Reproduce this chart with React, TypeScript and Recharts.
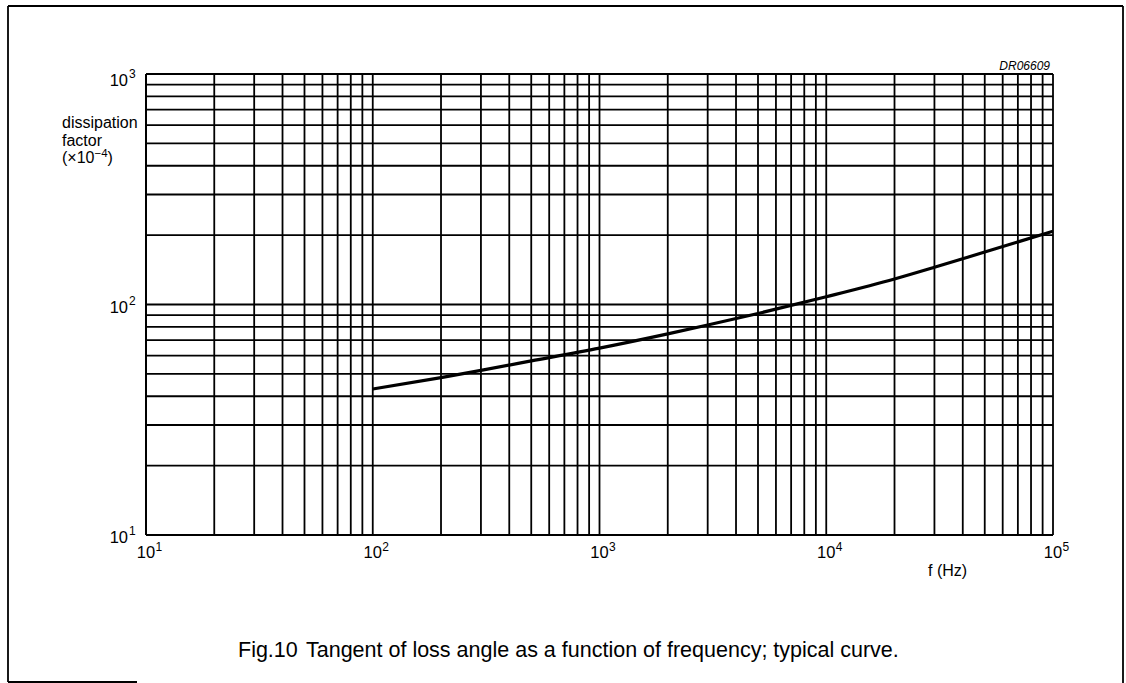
import React from 'react'
import { LineChart, Line, XAxis, YAxis, CartesianGrid } from 'recharts'

// typical tan δ curve
const frequencies = [100, 200, 300, 500, 1000, 2000, 3000, 5000, 10000, 20000, 30000, 50000, 100000]
const dissipation = [43, 48.2, 51.8, 56.9, 64.7, 74.6, 81.5, 91.4, 108, 129, 145, 169, 208]

// log grid: decades and the 1..9 steps inside each decade
const xDecades = [10, 100, 1000, 10000, 100000]
const yDecades = [10, 100, 1000]
const steps = [1, 2, 3, 4, 5, 6, 7, 8, 9]

const W = 1126
const H = 683
const PLOT = { left: 146, top: 74, right: 1053, bottom: 535 }
const FONT = '"Liberation Sans", Arial, Helvetica, sans-serif'

function gridTicks(decades: number[]) {
  const out: number[] = []
  decades.slice(0, -1).forEach((d) => steps.forEach((s) => out.push(s * d)))
  out.push(decades[decades.length - 1])
  return out
}

const xTicks = gridTicks(xDecades)
const yTicks = gridTicks(yDecades)
const data = frequencies.map((f, i) => ({ f, d: dissipation[i] }))

const isDecade = (v: number) => Math.abs(Math.log10(v) - Math.round(Math.log10(v))) < 1e-9

function XTick({ x, payload }: { x?: number; payload?: { value: number } }) {
  if (!payload || !isDecade(payload.value)) return null
  const exp = Math.round(Math.log10(payload.value))
  return (
    <g fontFamily={FONT} fill="#000">
      <text x={x} y={PLOT.bottom + 23} textAnchor="middle" fontSize={16.5}>10</text>
      <text x={(x ?? 0) + 9.5} y={PLOT.bottom + 16} textAnchor="start" fontSize={12}>{exp}</text>
    </g>
  )
}

function YTick({ y, payload }: { y?: number; payload?: { value: number } }) {
  if (!payload || !isDecade(payload.value)) return null
  const exp = Math.round(Math.log10(payload.value))
  // top label sits a little under its line in the original
  const yy = (y ?? 0) + (payload.value === yDecades[yDecades.length - 1] ? 6 : 2)
  return (
    <g fontFamily={FONT} fill="#000">
      <text x={PLOT.left - 18} y={yy + 6} textAnchor="end" fontSize={16.5}>10</text>
      <text x={PLOT.left - 17} y={yy - 2} textAnchor="start" fontSize={12}>{exp}</text>
    </g>
  )
}

export default function App() {
  return (
    <div style={{ position: 'absolute', left: 0, top: 0, width: W, height: H, background: '#fff' }}>
      <LineChart
        width={W}
        height={H}
        data={data}
        margin={{ top: PLOT.top, right: W - PLOT.right, left: PLOT.left - 60, bottom: H - PLOT.bottom - 30 }}
      >
        <CartesianGrid stroke="#000" strokeWidth={1.8} strokeOpacity={1} />
        <XAxis
          dataKey="f"
          type="number"
          scale="log"
          domain={[10, 100000]}
          ticks={xTicks}
          interval={0}
          height={30}
          tickLine={false}
          axisLine={{ stroke: '#000', strokeWidth: 2 }}
          tick={<XTick />}
          allowDataOverflow
        />
        <YAxis
          type="number"
          scale="log"
          domain={[10, 1000]}
          ticks={yTicks}
          interval={0}
          width={60}
          tickLine={false}
          axisLine={{ stroke: '#000', strokeWidth: 2 }}
          tick={<YTick />}
          allowDataOverflow
        />
        <Line
          dataKey="d"
          type="monotone"
          stroke="#000"
          strokeWidth={3.2}
          dot={false}
          isAnimationActive={false}
        />
      </LineChart>

      <svg
        width={W}
        height={H}
        style={{ position: 'absolute', left: 0, top: 0, pointerEvents: 'none' }}
        fontFamily={FONT}
      >
        {/* page frame of the datasheet scan */}
        <g stroke="#000" strokeWidth={1.8}>
          <line x1={8} y1={6} x2={1123} y2={6} />
          <line x1={8} y1={6} x2={8} y2={682} />
          <line x1={1123} y1={6} x2={1123} y2={683} />
          <line x1={8} y1={682} x2={137} y2={682} />
        </g>
        <text x={1050} y={70} textAnchor="end" fontSize={12} fontStyle="italic">DR06609</text>
        <text x={62} y={128} fontSize={16}>dissipation</text>
        <text x={62} y={146} fontSize={16}>factor</text>
        <text x={62} y={163} fontSize={16}>
          (×10<tspan dy={-6} fontSize={11.5}>−4</tspan><tspan dy={6}>)</tspan>
        </text>
        <text x={928} y={576} fontSize={16}>f (Hz)</text>
        <text y={657} fontSize={21.5}>
          <tspan x={238}>Fig.10</tspan>
          <tspan x={306}>Tangent of loss angle as a function of frequency; typical curve.</tspan>
        </text>
      </svg>
    </div>
  )
}
